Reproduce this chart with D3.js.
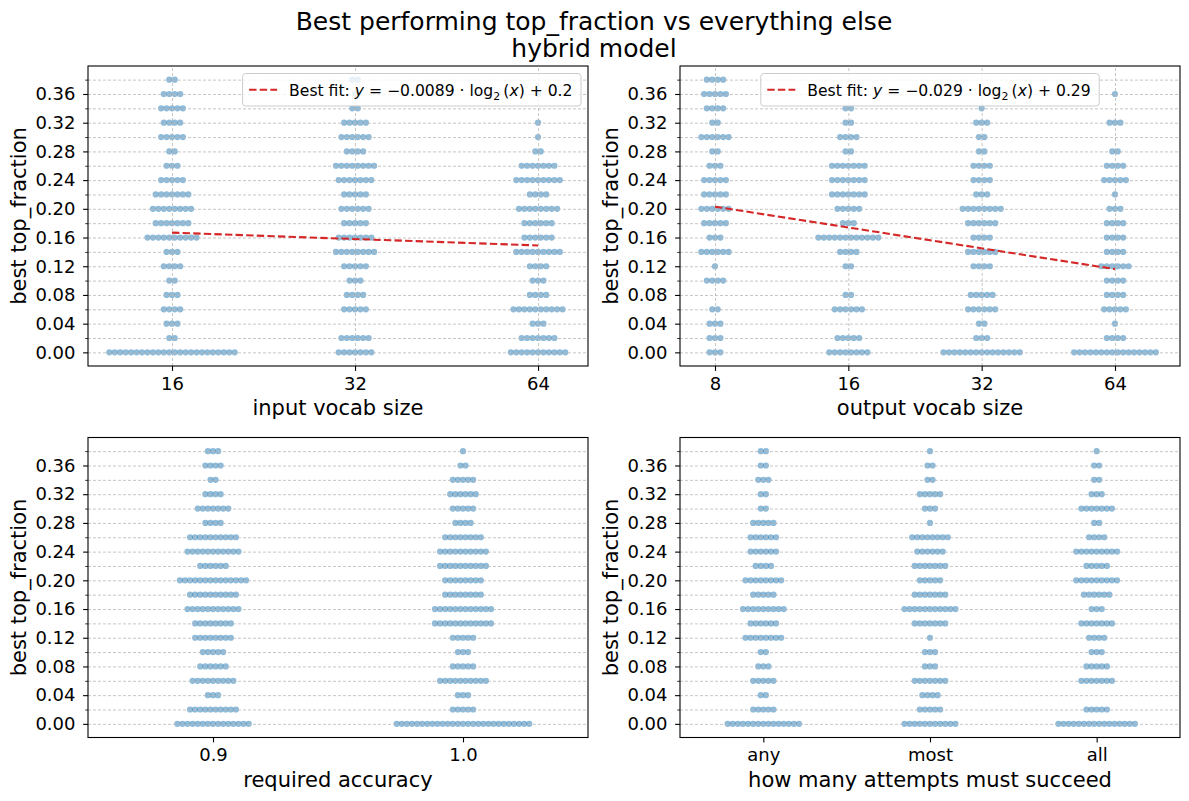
<!DOCTYPE html>
<html><head><meta charset="utf-8">
<script src="https://cdn.jsdelivr.net/npm/d3@7/dist/d3.min.js"></script>
<style>
body{margin:0;background:#fff}
svg{display:block}
text{font-family:"DejaVu Sans",sans-serif;fill:#000}
</style>
</head><body>
<svg id="c" width="1189" height="801"></svg>
<script>
// ---------------- DATA ----------------
const titleLines = ["Best performing top_fraction vs everything else", "hybrid model"];
const levels = [0.00,0.02,0.04,0.06,0.08,0.10,0.12,0.14,0.16,0.18,0.20,0.22,0.24,0.26,0.28,0.30,0.32,0.34,0.36,0.38];
const yTickValues = [0.00,0.04,0.08,0.12,0.16,0.20,0.24,0.28,0.32,0.36];

// panel 1: input vocab size (counts of runs per level, from 0.00 up to 0.38)
const inputVocabCats = [16, 32, 64];
const inputVocab16 = [24,2,3,4,3,2,4,3,10,7,8,7,5,3,2,5,4,5,4,2];
const inputVocab32 = [7,6,0,5,4,3,5,8,7,5,6,5,7,8,4,6,5,2,1,2];
const inputVocab64 = [11,7,3,10,4,3,4,9,6,6,8,4,9,7,2,1,1,0,1,0];
const inputFit = {slope: -0.0089, intercept: 0.2024, label: ["−0.0089", "0.2"]};

// panel 2: output vocab size
const outputVocabCats = [8, 16, 32, 64];
const outputVocab8  = [3,3,3,2,0,4,1,6,3,5,6,5,5,3,2,6,2,4,5,4];
const outputVocab16 = [8,5,0,6,2,0,2,4,12,3,5,7,7,7,2,4,2,2,0,0];
const outputVocab32 = [15,3,2,6,5,0,4,6,4,6,8,3,4,4,2,2,3,1,0,0];
const outputVocab64 = [16,4,1,5,4,4,6,4,4,4,3,1,5,4,2,0,3,0,1,0];
const outputFit = {slope: -0.029, intercept: 0.29, label: ["−0.029", "0.29"]};

// panel 3: required accuracy
const accuracyCats = ["0.9", "1.0"];
const accuracy09 = [15,10,3,9,6,5,8,8,11,10,14,6,11,10,4,7,4,2,4,3];
const accuracy10 = [27,5,3,10,5,3,5,12,12,8,8,10,10,8,4,5,6,5,2,1];

// panel 4: how many attempts must succeed
const attemptCats = ["any", "most", "all"];
const attemptsAny  = [15,5,2,5,3,2,8,6,9,5,8,4,6,6,5,2,2,3,2,2];
const attemptsMost = [11,5,4,7,3,3,1,7,11,7,5,7,6,8,1,3,5,2,2,1];
const attemptsAll  = [16,5,0,7,5,3,4,7,3,6,9,5,9,4,2,7,3,2,2,1];

const yLabel = "best top_fraction";

// ---------------- DRAW ----------------
const svg = d3.select("#c");
const yDomain = [-0.019, 0.399];
const dotColor = "#1f77b4";
const gridColor = "#b8b8b8";
const tickFont = "18px";
const labelFont = "21px";

svg.append("text").attr("x", 594).attr("y", 30).attr("text-anchor", "middle")
  .style("font-size", "25px").text(titleLines[0]);
svg.append("text").attr("x", 594).attr("y", 56.5).attr("text-anchor", "middle")
  .style("font-size", "25px").text(titleLines[1]);

function drawPanel(cfg) {
  const {x0, y0, w, h} = cfg;
  const g = svg.append("g").attr("transform", `translate(${x0},${y0})`);
  const y = d3.scaleLinear().domain(yDomain).range([h, 0]);
  const x = cfg.x;

  // swarm dots
  const pts = [];
  cfg.cats.forEach((c, ci) => {
    const cx = x(c);
    cfg.counts[ci].forEach((n, li) => {
      for (let k = 0; k < n; k++) {
        pts.push({cx: cx + (k - (n - 1) / 2) * cfg.spacing, cy: y(levels[li])});
      }
    });
  });
  g.append("g").selectAll("circle").data(pts).join("circle")
    .attr("cx", d => d.cx).attr("cy", d => d.cy).attr("r", 3.1)
    .attr("fill", dotColor).attr("fill-opacity", 0.5);

  // horizontal grid (major + minor)
  const gy = g.append("g").call(d3.axisLeft(y).tickValues(levels).tickSize(-w).tickFormat(""));
  gy.select(".domain").remove();
  gy.selectAll("line").attr("stroke", gridColor).attr("stroke-width", 0.8).attr("stroke-dasharray", "3,2");
  // vertical grid
  if (cfg.vgrid) {
    const gx = g.append("g").attr("transform", `translate(0,${h})`)
      .call(d3.axisBottom(x).tickValues(cfg.cats).tickSize(-h).tickFormat(""));
    gx.select(".domain").remove();
    gx.selectAll("line").attr("stroke", gridColor).attr("stroke-width", 0.8).attr("stroke-dasharray", "3,2");
  }

  // fit line
  if (cfg.fit) {
    const xs = [cfg.cats[0], cfg.cats[cfg.cats.length - 1]];
    const line = d3.line().x(d => x(d)).y(d => y(cfg.fit.slope * Math.log2(d) + cfg.fit.intercept));
    g.append("path").datum(xs).attr("d", line).attr("fill", "none")
      .attr("stroke", "#d62728").attr("stroke-width", 2.1).attr("stroke-dasharray", "7.4,3.2");
  }

  // y axis major
  const ay = g.append("g").call(d3.axisLeft(y).tickValues(yTickValues).tickSize(4.9).tickPadding(7.6)
    .tickFormat(d3.format(".2f")));
  ay.select(".domain").remove();
  ay.selectAll("line").attr("stroke", "#000").attr("stroke-width", 1.1);
  ay.selectAll("text").style("font-size", tickFont).attr("font-family", null);
  // y axis minor
  const minor = levels.filter(v => !yTickValues.some(t => Math.abs(t - v) < 1e-9));
  const aym = g.append("g").call(d3.axisLeft(y).tickValues(minor).tickSize(2.8).tickFormat(""));
  aym.select(".domain").remove();
  aym.selectAll("line").attr("stroke", "#000").attr("stroke-width", 0.8);

  // x axis
  const ax = g.append("g").attr("transform", `translate(0,${h})`)
    .call(d3.axisBottom(x).tickValues(cfg.cats).tickSize(4.9).tickPadding(6.1).tickFormat(d => String(d)));
  ax.select(".domain").remove();
  ax.selectAll("line").attr("stroke", "#000").attr("stroke-width", 1.1);
  ax.selectAll("text").style("font-size", tickFont).attr("font-family", null);

  // frame
  g.append("rect").attr("width", w).attr("height", h).attr("fill", "none")
    .attr("stroke", "#000").attr("stroke-width", 1.1);

  // axis labels
  g.append("text").attr("x", w / 2).attr("y", h + 49).attr("text-anchor", "middle")
    .style("font-size", labelFont).text(cfg.xLabel);
  g.append("text").attr("transform", `translate(${-62},${h / 2}) rotate(-90)`).attr("text-anchor", "middle")
    .style("font-size", labelFont).text(yLabel);

  // legend
  if (cfg.fit) {
    const lg = g.append("g");
    const fs = 15.6;
    const rect = lg.append("rect").attr("rx", 3).attr("fill", "#fff").attr("fill-opacity", 0.8)
      .attr("stroke", "#cccccc").attr("stroke-width", 1);
    const t = lg.append("text").style("font-size", fs + "px");
    t.append("tspan").text("Best fit: ");
    t.append("tspan").attr("font-style", "italic").text("y");
    t.append("tspan").text(" = " + cfg.fit.label[0] + " · log");
    t.append("tspan").attr("dy", 4).style("font-size", (fs * 0.7) + "px").text("2");
    t.append("tspan").attr("dy", -4).text("\u2009(");
    t.append("tspan").attr("font-style", "italic").text("x");
    t.append("tspan").text(") + " + cfg.fit.label[1]);
    const tw = t.node().getComputedTextLength();
    const pad = 6.5, hl = 28, gap = 12, bh = 32.5;
    const bw = pad + hl + gap + tw + pad + 2;
    let bx;
    if (cfg.legendLoc === "right") bx = w - 7 - bw; else bx = (w - bw) / 2;
    const by = 7.5;
    rect.attr("x", bx).attr("y", by).attr("width", bw).attr("height", bh);
    lg.append("line").attr("x1", bx + pad).attr("x2", bx + pad + hl)
      .attr("y1", by + bh / 2).attr("y2", by + bh / 2)
      .attr("stroke", "#d62728").attr("stroke-width", 2.1).attr("stroke-dasharray", "7.4,3.2");
    t.attr("x", bx + pad + hl + gap).attr("y", by + bh / 2 + 5.8);
  }
}

const topY = 66, botY = 437.5, ph = 300;

drawPanel({
  x0: 88, y0: topY, w: 500, h: ph,
  x: d3.scaleLog().base(2).domain([2 ** 3.541, 2 ** 6.273]).range([0, 500]),
  cats: inputVocabCats, counts: [inputVocab16, inputVocab32, inputVocab64],
  spacing: 5.45, vgrid: true, fit: inputFit, legendLoc: "right", xLabel: "input vocab size"
});
drawPanel({
  x0: 680, y0: topY, w: 500, h: ph,
  x: d3.scaleLog().base(2).domain([2 ** 2.7375, 2 ** 6.4875]).range([0, 500]),
  cats: outputVocabCats, counts: [outputVocab8, outputVocab16, outputVocab32, outputVocab64],
  spacing: 5.45, vgrid: true, fit: outputFit, legendLoc: "center", xLabel: "output vocab size"
});
drawPanel({
  x0: 88, y0: botY, w: 500, h: ph,
  x: d3.scalePoint().domain(accuracyCats).range([0, 500]).padding(0.5),
  cats: accuracyCats, counts: [accuracy09, accuracy10],
  spacing: 5.1, vgrid: false, fit: null, xLabel: "required accuracy"
});
drawPanel({
  x0: 680, y0: botY, w: 500, h: ph,
  x: d3.scalePoint().domain(attemptCats).range([0, 500]).padding(0.5),
  cats: attemptCats, counts: [attemptsAny, attemptsMost, attemptsAll],
  spacing: 5.1, vgrid: false, fit: null, xLabel: "how many attempts must succeed"
});
</script>
</body></html>
